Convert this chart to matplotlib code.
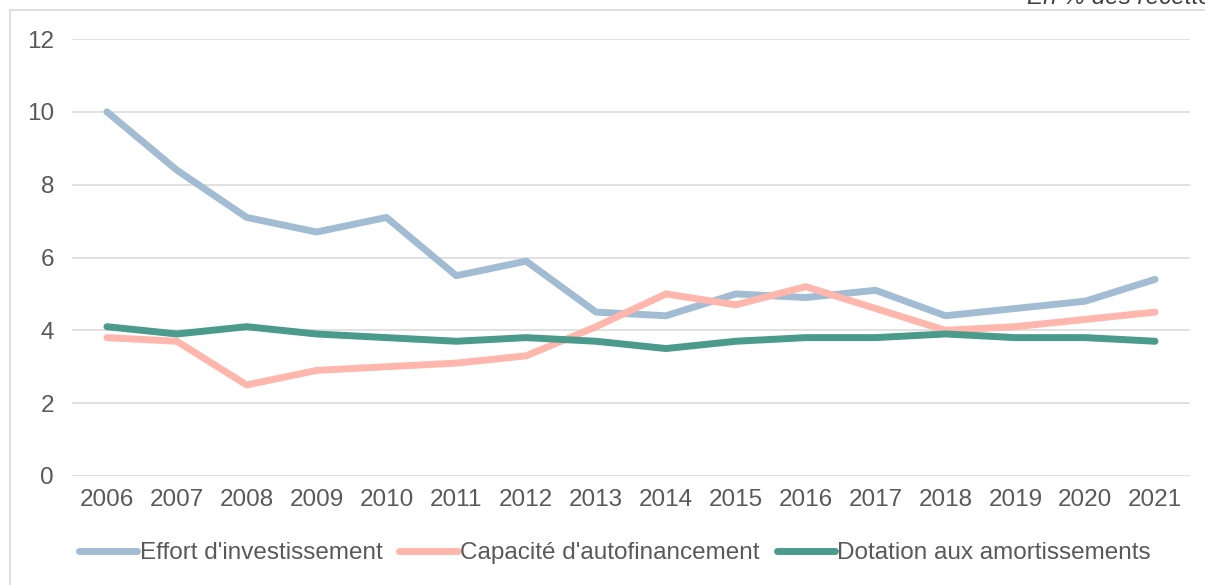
import matplotlib.pyplot as plt
from matplotlib.patches import Rectangle

plt.rcParams['font.family'] = ['Liberation Sans', 'DejaVu Sans']

annees = ['2006', '2007', '2008', '2009', '2010', '2011', '2012', '2013',
          '2014', '2015', '2016', '2017', '2018', '2019', '2020', '2021']
effort = [10.0, 8.4, 7.1, 6.7, 7.1, 5.5, 5.9, 4.5, 4.4, 5.0, 4.9, 5.1, 4.4, 4.6, 4.8, 5.4]
capacite = [3.8, 3.7, 2.5, 2.9, 3.0, 3.1, 3.3, 4.1, 5.0, 4.7, 5.2, 4.6, 4.0, 4.1, 4.3, 4.5]
dotation = [4.1, 3.9, 4.1, 3.9, 3.8, 3.7, 3.8, 3.7, 3.5, 3.7, 3.8, 3.8, 3.9, 3.8, 3.8, 3.7]

texte = '#595959'
fs = 17.5
fig = plt.figure(figsize=(12.05, 5.85), dpi=100)
ax = fig.add_axes([72 / 1205, 1 - 476 / 585, 1118 / 1205, 437 / 585])

x = range(len(annees))
ax.plot(x, effort, color='#A2BCD4', lw=5, solid_capstyle='round', label="Effort d'investissement")
ax.plot(x, capacite, color='#FFB6AC', lw=5, solid_capstyle='round', label="Capacité d'autofinancement")
ax.plot(x, dotation, color='#4A9B8B', lw=5, solid_capstyle='round', label='Dotation aux amortissements')

ax.set_xlim(-0.5, len(annees) - 0.5)
ax.set_ylim(0, 12)
ax.set_yticks(range(0, 13, 2))
ax.set_xticks(list(x))
ax.set_xticklabels(annees)
ax.grid(axis='y', color='#D9D9D9', lw=1.1)
ax.set_axisbelow(True)
for s in ax.spines.values():
    s.set_visible(False)
ax.tick_params(axis='both', length=0, labelsize=fs, labelcolor=texte)
ax.tick_params(axis='y', pad=13)
ax.tick_params(axis='x', pad=9)

leg = fig.legend(loc='center', bbox_to_anchor=(615 / 1205, 1 - 553 / 585), ncol=3,
                 frameon=False, fontsize=fs, handlelength=2.4, handletextpad=0.1,
                 columnspacing=0.7)
for t in leg.get_texts():
    t.set_color(texte)

fig.patches.append(Rectangle((10 / 1205, -0.1), 1.2, 1.1 - 10 / 585, transform=fig.transFigure,
                             fill=False, edgecolor='#D9D9D9', lw=1.2))
fig.text(1027 / 1205, 1 - 4 / 585, 'En % des recettes', ha='left', va='baseline',
         style='italic', fontsize=fs, color='#404040')

fig.savefig('out.png', dpi=100)
